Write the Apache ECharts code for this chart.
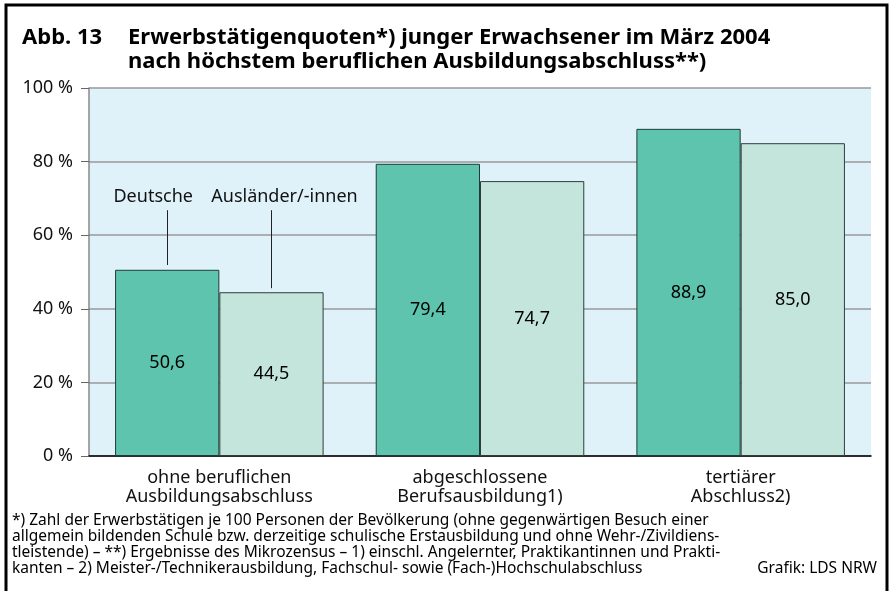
<!DOCTYPE html>
<html>
<head>
<meta charset="utf-8">
<script src="https://cdn.jsdelivr.net/npm/echarts@6/dist/echarts.min.js"></script>
<style>
  html, body { margin: 0; padding: 0; background: #ffffff; }
  #chart { width: 893px; height: 591px; }
</style>
</head>
<body>
<div id="chart"></div>
<script>
// Categories (highest vocational qualification)
const categories = [
  'ohne beruflichen\nAusbildungsabschluss',
  'abgeschlossene\nBerufsausbildung1)',
  'tertiärer\nAbschluss2)'
];
// Employment rates in %
const deutsche = [50.6, 79.4, 88.9];
const auslaender = [44.5, 74.7, 85.0];
const seriesNames = ['Deutsche', 'Ausländer/-innen'];
// Leader lines for the series labels: [top value, bottom value]
const leaderDeutsche = [66.8, 51.9];
const leaderAuslaender = [66.8, 45.6];

const titleNo = 'Abb. 13';
const titleText = 'Erwerbstätigenquoten*) junger Erwachsener im März 2004\nnach höchstem beruflichen Ausbildungsabschluss**)';
const footnote = [
  '*) Zahl der Erwerbstätigen je 100 Personen der Bevölkerung (ohne gegenwärtigen Besuch einer',
  'allgemein bildenden Schule bzw. derzeitige schulische Erstausbildung und ohne Wehr-/Zivildiens-',
  'tleistende) – **) Ergebnisse des Mikrozensus – 1) einschl. Angelernter, Praktikantinnen und Prakti-',
  'kanten – 2) Meister-/Technikerausbildung, Fachschul- sowie (Fach-)Hochschulabschluss'
].join('\n');
const source = 'Grafik: LDS NRW';

const FONT = '"Noto Sans", "Open Sans", sans-serif';

const fmt = v => v.toFixed(1).replace('.', ',');

// Vertical leader line from a bar to its series name; pad shifts the text sideways
function leader(name, range, pad) {
  return {
    silent: true,
    animation: false,
    symbol: ['none', 'none'],
    lineStyle: { color: '#222', width: 1, type: 'solid' },
    label: {
      show: true,
      position: 'start',
      formatter: name,
      color: '#111',
      fontSize: 18,
      fontFamily: FONT,
      distance: 4,
      padding: pad
    },
    data: [[{ coord: [0, range[0]] }, { coord: [0, range[1]] }]]
  };
}

const chart = echarts.init(document.getElementById('chart'), null, { renderer: 'canvas' });
chart.setOption({
  backgroundColor: '#ffffff',
  animation: false,
  textStyle: { fontFamily: FONT },
  title: [
    {
      text: titleNo, left: 22, top: 26, padding: 0,
      textStyle: { fontFamily: FONT, fontSize: 22, fontWeight: 'bold', color: '#000', lineHeight: 24 }
    },
    {
      text: titleText, left: 128, top: 26, padding: 0,
      textStyle: { fontFamily: FONT, fontSize: 22, fontWeight: 'bold', color: '#000', lineHeight: 24 }
    },
    {
      text: footnote, left: 12, top: 513, padding: 0,
      textStyle: { fontFamily: FONT, fontSize: 15.5, fontWeight: 'normal', color: '#000', lineHeight: 16 }
    },
    {
      text: source, right: 16, top: 561, padding: 0,
      textStyle: { fontFamily: FONT, fontSize: 15.5, fontWeight: 'normal', color: '#000', lineHeight: 16 }
    }
  ],
  graphic: [
    {
      type: 'rect',
      silent: true,
      shape: { x: 6, y: 5, width: 881, height: 620 },
      style: { fill: null, stroke: '#000', lineWidth: 3 }
    }
  ],
  grid: {
    left: 89, right: 22, top: 88, bottom: 135,
    show: true,
    backgroundColor: '#dff2f9',
    borderWidth: 0
  },
  xAxis: {
    type: 'category',
    data: categories,
    axisLine: { show: true, lineStyle: { color: '#000', width: 1.5 } },
    axisTick: { show: false },
    axisLabel: {
      color: '#111', fontSize: 18, fontFamily: FONT, lineHeight: 19, margin: 12
    }
  },
  yAxis: {
    type: 'value',
    min: 0, max: 100, interval: 20,
    axisLine: { show: true, lineStyle: { color: '#888', width: 1.5 } },
    axisTick: { show: true, length: 8, lineStyle: { color: '#666', width: 1 } },
    splitLine: { show: true, lineStyle: { color: '#999', width: 1.5 } },
    axisLabel: {
      formatter: '{value} %', color: '#111', fontSize: 18, fontFamily: FONT, margin: 16
    }
  },
  series: [
    {
      name: seriesNames[0],
      type: 'bar',
      data: deutsche,
      barGap: '0%',
      barCategoryGap: '20%',
      itemStyle: { color: '#5ec4ad', borderColor: '#1f3b35', borderWidth: 1 },
      label: {
        show: true, position: 'inside', color: '#000', fontSize: 18, fontFamily: FONT,
        formatter: p => fmt(p.value)
      },
      markLine: leader(seriesNames[0], leaderDeutsche, [0, 28, 0, 0])
    },
    {
      name: seriesNames[1],
      type: 'bar',
      data: auslaender,
      barGap: '0%',
      barCategoryGap: '20%',
      itemStyle: { color: '#c4e5dc', borderColor: '#2e3e3a', borderWidth: 1 },
      label: {
        show: true, position: 'inside', color: '#000', fontSize: 18, fontFamily: FONT,
        formatter: p => fmt(p.value)
      },
      markLine: leader(seriesNames[1], leaderAuslaender, [0, 0, 0, 26])
    }
  ]
});
</script>
</body>
</html>
